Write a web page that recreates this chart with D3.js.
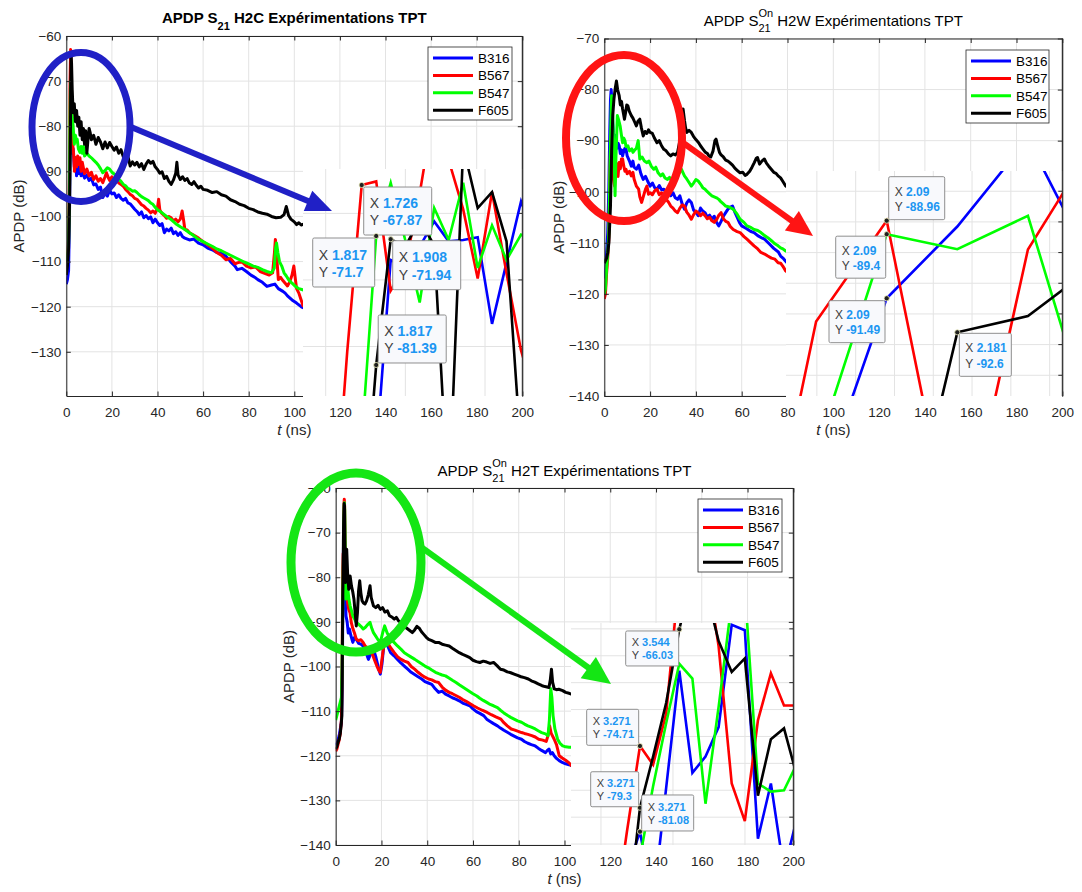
<!DOCTYPE html>
<html><head><meta charset="utf-8">
<script src="https://cdn.jsdelivr.net/npm/d3@7/dist/d3.min.js"></script>
<style>
html,body{margin:0;padding:0;background:#fff;}
svg text{font-family:"Liberation Sans",Arial,Helvetica,sans-serif;}
</style></head><body>
<svg id="chart" width="1082" height="892"></svg>
<script>
// ================= DATA =================
const seriesNames = ["B316","B567","B547","F605"];
const xTicks = [0,20,40,60,80,100,120,140,160,180,200];
const yTicksH2C = [-130,-120,-110,-100,-90,-80,-70,-60];
const yTicksH2W = [-140,-130,-120,-110,-100,-90,-80,-70];
const yTicksH2T = [-140,-130,-120,-110,-100,-90,-80,-70,-60];

// ---- H2C main curves [t (ns), APDP (dB)]
const h2c_B316 = [[0,-115],[0.5,-114],[1,-112],[1.4,-100],[1.6,-88],[1.8,-82],[2.0,-76],[2.2,-80],[2.5,-86],[3,-85],[3.5,-89],[4,-87],[4.5,-91],[5,-89],[5.5,-90.5],[6,-88.5],[6.5,-91],[7,-90],[8,-91.5],[9,-90.8],[10,-92],[11,-91.5],[12,-93],[13,-92.8],[14,-94],[15,-93.5],[16,-95.8],[17,-94.8],[18,-95.5],[19,-94.2],[20,-95],[21,-94.8],[22,-95.8],[23,-95.2],[24,-96],[25,-96.4],[26,-96],[27,-97],[28,-97.2],[29,-97.8],[30,-98.4],[31,-98.9],[32,-99.6],[33,-99],[34,-100.3],[35,-99.8],[36,-100.5],[37,-100.1],[38,-101.4],[39,-100.6],[40,-101.4],[41,-102],[42,-101.6],[43,-103.6],[44,-102.8],[45,-103.2],[46,-102.6],[47,-103.8],[48,-103.4],[49,-104.2],[50,-103.6],[51,-104.5],[52,-104.8],[54,-105.2],[56,-105],[58,-105.9],[60,-106.3],[62,-107],[64,-107.4],[66,-108],[68,-108.2],[70,-108.8],[72,-110],[74,-111],[75,-111.8],[77,-111.5],[79,-112.2],[81,-113],[83,-113.6],[84,-114],[86,-114.6],[88,-115.5],[90,-115.2],[91.5,-115],[93,-116],[95,-116.6],[96,-117],[97,-117.6],[99,-118.5],[101,-119.2],[103,-120],[104,-120.3]];
const h2c_B567 = [[0,-110],[0.5,-109],[1,-105],[1.4,-90],[1.6,-72],[1.73,-67.9],[1.9,-63],[2.1,-66],[2.4,-75],[2.8,-84],[3.2,-86],[3.6,-90],[4,-87],[4.5,-89],[5,-86.6],[5.5,-88.5],[6,-87],[6.5,-90],[7,-88],[8,-90.5],[9,-89.5],[10,-91],[11,-90.2],[12,-91.8],[13,-91],[14,-92.2],[15,-91.6],[16,-92.5],[17,-91.2],[17.6,-90.3],[18.5,-91.5],[19,-92],[20,-91.2],[21,-92],[22,-91.8],[23,-92.6],[24,-92.9],[25,-93.3],[26,-94],[27,-94.5],[28,-95.1],[29,-95.4],[30,-96],[31,-96.2],[32,-96.8],[33,-97.4],[34,-97.7],[35,-98.2],[36,-98.6],[37,-99.2],[38,-98.8],[39,-99.3],[40,-98],[40.5,-96.2],[41,-98.5],[41.7,-99.2],[43,-99.8],[44,-100.4],[45,-100],[46,-100.3],[47,-101],[48,-100.6],[49,-101.2],[50,-100.6],[50.8,-98.8],[51.5,-101],[52,-102.9],[53,-103],[54,-103.6],[55,-103.9],[56,-104.2],[58,-104.8],[60,-105.6],[62,-106.3],[64,-107],[66,-108],[68,-108.6],[70,-109.6],[72,-109.3],[74,-110.5],[75,-110.3],[77,-110],[79,-111],[81,-111.4],[83,-111.2],[85,-112.2],[87,-112.6],[89,-113],[90.5,-112.5],[91.3,-108],[91.7,-105.1],[92.3,-109],[93,-114],[94,-113.5],[95,-114.2],[96,-114.8],[97,-115.4],[98,-114.5],[99,-113],[99.8,-111],[100.5,-114],[101,-116],[102,-117],[103,-118.5],[104,-120]];
const h2c_B547 = [[0,-110],[0.5,-109],[1,-106],[1.4,-95],[1.6,-80],[1.82,-71.7],[2,-70],[2.2,-72],[2.6,-78],[3,-80],[3.5,-84],[4,-82],[4.5,-83.5],[4.8,-82.9],[5.3,-85],[6,-85.8],[6.5,-84.5],[7,-86],[7.5,-84.5],[8,-86.6],[9,-86],[10,-86.6],[11,-87],[12,-87.5],[13,-88],[14,-88.6],[15,-89.4],[16,-90.3],[17,-89.8],[18,-89.2],[19,-89.5],[20,-90.2],[21,-90.6],[22,-91],[23,-91.8],[24,-92.2],[25,-92.9],[26,-93.2],[27,-93.8],[28,-94],[29,-94.4],[30,-94.3],[31,-94.7],[32,-95.2],[33,-95.6],[34,-95.9],[35,-96.2],[36,-96.5],[37,-97],[38,-97.3],[39,-98],[40,-98.5],[42,-99.2],[44,-100],[46,-100.7],[48,-101.6],[50,-102.3],[52,-102.9],[54,-103.6],[56,-104.3],[58,-105.1],[60,-105.6],[62,-106.1],[64,-106.6],[66,-107.2],[68,-107.6],[70,-108.1],[72,-108.6],[74,-109.1],[76,-109.6],[78,-110.1],[80,-110.5],[82,-111],[84,-111.3],[86,-111.8],[88,-112.2],[90,-112.5],[91.2,-111.5],[91.8,-107],[92.2,-105.9],[92.8,-108],[93.5,-110],[94.5,-111],[95.5,-112.5],[96.5,-113.2],[97.5,-114],[99,-114.8],[100.5,-115.5],[102,-116],[104,-116.3]];
const h2c_F605 = [[0,-113],[0.5,-111],[1,-107],[1.5,-95],[1.73,-85],[1.82,-81.4],[1.91,-71.9],[2.1,-64],[2.3,-66],[2.6,-72],[3,-77],[3.5,-75],[4,-79],[4.5,-76.5],[5,-80],[5.5,-78],[6,-82],[6.5,-79],[7,-83],[7.5,-80.5],[8,-84],[8.5,-81],[9,-86],[9.5,-83],[10,-80.5],[10.5,-81.5],[11,-83],[12,-82],[13,-84],[14,-82.5],[15,-83.5],[16,-85],[17,-83.5],[18,-84.8],[19,-83.6],[20,-84.5],[21,-85.3],[22,-84.6],[23,-86],[24,-85.2],[25,-86.8],[26,-87.4],[27,-86.6],[28,-88.8],[29,-87.9],[30,-88.6],[31,-88],[32,-89],[33,-88.3],[34,-89.6],[35,-88.4],[36,-87.6],[37,-88.2],[38,-87.8],[39,-89],[40,-89.6],[41,-90.4],[42,-90.1],[43,-91.6],[44,-91.1],[45,-92.2],[46,-92.9],[47,-91.9],[48,-90.4],[48.5,-88],[49,-90.8],[50,-91.8],[51,-91.2],[52,-92],[53,-91.6],[54,-92.6],[55,-92.9],[56,-92.3],[57,-93.1],[58,-93.7],[59,-93.3],[60,-94],[62,-94.2],[64,-94.7],[66,-94.5],[68,-95.2],[70,-95.5],[72,-96.3],[74,-96.7],[76,-97.3],[78,-97.6],[80,-98.2],[82,-98.5],[84,-99],[86,-99.3],[88,-99.5],[90,-100],[92,-100.3],[94,-100.2],[95.5,-99.6],[96.5,-97.8],[97.5,-99.8],[98.5,-100.6],[100,-101.2],[101,-101.8],[102,-101.4],[103,-101.9],[104,-101.7]];

// ---- H2W main curves
const h2w_B316 = [[0,-117],[0.5,-116],[1,-112],[1.5,-108],[2,-99],[2.4,-88],[2.7,-82],[3,-80],[3.3,-82],[3.6,-86],[4,-88.4],[4.5,-90],[5,-89],[5.5,-91.5],[6,-90.5],[6.5,-91],[7,-92.5],[7.5,-91.8],[8,-93],[8.5,-92],[9,-91.5],[9.5,-91.7],[10,-93],[11,-94],[11.8,-95],[12.5,-94],[13,-95.2],[14,-95.6],[15,-94.8],[16,-96.5],[17,-97.6],[18,-97],[19,-98],[20,-98.9],[21,-98.3],[22,-99.2],[23,-99.5],[24,-98.8],[25,-99.6],[26,-99.5],[27,-100.2],[28,-100],[29,-100.8],[30,-100.2],[31,-101.2],[32,-101.5],[33,-100.8],[34,-102.4],[35,-103.4],[36,-102.2],[37,-101.6],[38,-102.1],[39,-103.6],[40,-104],[41,-104.7],[42,-103.2],[43,-103.8],[44,-104.1],[45,-105],[46,-104.6],[47,-105.4],[48,-104.8],[49,-106],[50,-106.7],[51,-105.8],[52,-104.8],[53,-104.1],[54,-103.4],[55,-103],[56,-102.8],[57,-104],[58,-105],[59,-106],[60,-106.7],[62,-107.2],[64,-107.8],[65.4,-108],[67,-108.6],[69,-109.1],[70,-109.3],[72,-110.2],[74,-111.1],[76,-111.8],[77,-112.6],[78,-113],[79,-113.5],[80,-114]];
const h2w_B567 = [[0,-121],[0.5,-120],[1,-116],[1.5,-113],[2,-109],[2.4,-97],[2.8,-90],[3,-89],[3.3,-92],[3.6,-97],[4,-97.6],[4.5,-98.9],[5,-96],[5.5,-94.5],[6,-97],[6.5,-94.3],[7,-95.5],[7.5,-93.6],[8,-93.6],[8.5,-95],[9,-96],[9.5,-95.6],[10,-96.5],[11,-96],[11.8,-96.9],[12.5,-96.2],[13,-97.5],[14,-98.9],[15,-99.5],[15.5,-101],[16.3,-102.1],[17,-101],[18,-99.5],[18.6,-98.9],[19.3,-100.5],[20,-100.2],[21,-100.6],[22,-99.8],[23,-99.5],[24,-100.6],[25,-100.2],[26,-100.8],[27,-101.5],[28,-102],[29,-102.8],[30,-103.2],[31,-103.8],[32,-104.1],[33,-103.2],[34,-102.6],[35,-102.8],[36,-104],[37,-104.6],[38,-105.4],[39,-104.5],[40,-103.8],[41,-104.1],[42,-104.7],[43,-104.2],[44,-104.7],[45,-105.3],[46,-105],[47,-105.7],[48,-106],[49,-105.5],[50,-104.6],[51,-104.1],[52,-105.3],[53,-105.8],[54,-106],[55,-106.8],[56.3,-107.4],[58,-107.8],[59.3,-108],[61,-108.8],[62.3,-109.3],[64,-110],[65.4,-110.6],[67,-111.2],[68.4,-111.9],[70,-112.2],[71.4,-112.6],[73,-113],[74.5,-113.2],[75.9,-113.9],[77,-114],[78,-114.6],[79.2,-115.5],[80,-115.8]];
const h2w_B547 = [[0,-120],[0.5,-119],[1,-115],[1.5,-112],[2,-108],[2.5,-95],[3,-84],[3.2,-81.2],[3.5,-83],[3.8,-87],[4.2,-91.7],[4.7,-100.8],[5.1,-93],[5.7,-85.1],[6.3,-86],[6.9,-87.1],[7.5,-89],[8,-90.4],[8.5,-89.5],[9,-90],[9.5,-91.2],[10.3,-91],[11,-92],[12,-91.6],[12.5,-92.3],[13,-92],[14,-91.5],[14.8,-90],[15.5,-93.6],[16.5,-93.2],[17.5,-94],[18.6,-94.3],[19.5,-94],[20.5,-95],[21.6,-95.6],[22.5,-95.2],[23.5,-96.3],[24.6,-96.9],[25.5,-96.5],[26.5,-97.3],[27.6,-97.6],[28.5,-97.2],[29.5,-98],[30.6,-98.2],[31.5,-97.5],[32.5,-96.5],[33.7,-95.6],[34.3,-96.2],[35,-96.9],[36,-97.5],[37,-98.2],[38,-98.9],[39,-98.3],[40,-97.6],[41,-97.9],[42,-98.5],[43,-99.2],[44,-99.5],[45,-100],[46,-100.4],[47,-100.8],[48,-101],[49,-101.2],[50,-101.5],[51,-102],[52,-102.4],[53,-102.8],[54.5,-103],[56.3,-103.4],[58,-104.4],[59.3,-105.4],[61,-106],[62.3,-106.7],[64,-107],[65.4,-107.4],[67,-107.6],[68.4,-108],[70,-108.6],[71.4,-109],[73,-109.6],[74.5,-110.2],[75.9,-110.6],[77,-111],[78,-111.2],[79.2,-111.6],[80,-111.8]];
const h2w_F605 = [[0,-114],[0.5,-113.5],[1,-113],[1.5,-112],[2,-110],[2.4,-106],[2.7,-102.8],[3.2,-92],[3.7,-85],[4.2,-81.9],[4.7,-80],[5.3,-78.3],[5.8,-80],[6.5,-81.2],[7,-83],[7.5,-82.3],[8,-83.8],[8.4,-84.8],[8.8,-85.8],[9.3,-84.5],[9.8,-83],[10.3,-83.2],[10.9,-84.2],[11.8,-85.1],[12.5,-85.6],[13.3,-86.4],[14,-87.1],[14.7,-86.2],[15.5,-85.8],[16.2,-87.5],[17,-89.1],[17.8,-88.2],[18.6,-88.6],[19.3,-87.9],[20,-88.4],[21,-88.6],[22,-89.6],[23,-90.4],[24,-90],[25,-91],[26,-91.7],[27,-92],[28,-92.6],[29,-93],[30,-92.6],[31,-92.8],[32,-92.3],[33,-90],[33.8,-86],[34.4,-83.8],[35,-86],[35.5,-87.5],[36,-88.4],[37,-88],[38,-88.4],[39,-89.2],[40,-89.8],[41.2,-90.4],[42,-91],[43,-91.6],[44,-92.2],[45,-92.5],[45.7,-93],[46.5,-93.2],[47.5,-92],[48.3,-90],[48.8,-89.7],[49.5,-91],[50.3,-92.3],[51,-92.8],[52,-93.2],[53,-93.8],[54,-94],[54.8,-94.3],[56,-94.8],[57,-95.4],[58,-95.8],[59.3,-96.3],[60.5,-96.2],[61.5,-96.8],[62.3,-96.6],[63.5,-96],[64.5,-95.2],[65.5,-94.3],[66.3,-93.5],[66.9,-93.3],[67.8,-94.6],[68.8,-94],[69.9,-93.6],[70.8,-94.4],[71.8,-95],[72.9,-95.6],[74,-96.2],[75,-96.4],[75.9,-96.9],[77,-97.3],[78,-98],[79.2,-98.9],[80,-98.6]];

// ---- H2T main curves
const h2t_B316 = [[0,-117],[0.5,-117.5],[1,-116.5],[1.5,-115.5],[2,-114],[2.5,-112.5],[2.8,-105],[3.0,-95],[3.1,-86],[3.27,-81.1],[3.36,-75],[3.46,-70],[3.6,-68],[3.8,-72],[4.1,-82],[4.5,-88.7],[5,-90],[5.5,-92.5],[6,-91.6],[6.6,-93],[7.5,-94.6],[8.2,-93.5],[9,-93.9],[10,-94.8],[11,-95],[12,-95.4],[13,-96.5],[14.3,-98.4],[15,-97.5],[16.5,-96.1],[17.5,-97.8],[18.8,-100.6],[19.5,-101.7],[20.2,-99.5],[21,-95.4],[21.8,-94.6],[22.8,-95.5],[24,-96.9],[25.5,-97.6],[27,-98.4],[28.5,-99.2],[30,-99.9],[31.5,-100.6],[33,-101.3],[34.5,-101.8],[36,-102.3],[37.6,-102.8],[39,-103.4],[40.5,-103.7],[42,-104],[43.5,-105],[45,-105.8],[46.5,-105.5],[48,-106.2],[49.6,-106.6],[51,-107],[52.5,-107.3],[54,-107.7],[55.5,-108.2],[57,-108.5],[58.6,-108.8],[60,-109.5],[61.5,-110.1],[63,-110.5],[64.7,-111],[66,-111.8],[67.5,-112.3],[69,-112.8],[70.7,-113.3],[72,-113.8],[73.5,-114.3],[75.2,-114.8],[76.5,-115.2],[78,-115.6],[79.5,-116],[81.2,-116.3],[82.5,-116.8],[84,-117.2],[85.5,-117.5],[87.2,-117.8],[88.5,-118.3],[90,-118.8],[91.7,-119.3],[92.5,-118.8],[93.2,-118.5],[94,-119.6],[94.7,-119.3],[95.5,-120],[96.5,-120.6],[97.7,-121.1],[99,-121.5],[100.5,-121.8],[102,-122],[103,-122.2],[104,-122.4]];
const h2t_B567 = [[0,-119],[0.5,-118.5],[1,-117.5],[1.5,-116.5],[2,-115],[2.5,-112],[2.8,-100],[3.0,-85],[3.1,-78],[3.27,-74.7],[3.36,-76.1],[3.46,-72.3],[3.6,-64],[3.75,-62.5],[3.9,-64],[4.1,-72],[4.3,-81],[4.8,-84],[5.3,-86],[5.7,-87.2],[6.3,-88],[6.8,-90.1],[7.5,-91.5],[8.2,-92.5],[9,-93.9],[10,-94.2],[11,-94],[12,-94.6],[13,-95.5],[14,-95.8],[15,-96.1],[16,-97.2],[17,-98.6],[18,-99.9],[18.8,-100.8],[19.5,-101.3],[20.2,-98.5],[21,-95.4],[22,-94.8],[22.6,-94.6],[24,-95.8],[25.6,-96.9],[27,-97.8],[28.6,-98.4],[30,-98.8],[31.6,-99.1],[33,-100],[34.5,-100.6],[36,-101.3],[37.5,-101.9],[39,-102.4],[40.6,-102.8],[42,-103],[43.5,-103.4],[45,-103.6],[46.5,-104.6],[48,-105.3],[49.6,-105.8],[51,-106.1],[52.5,-106.5],[54,-106.9],[55.5,-107.4],[57,-107.8],[58.6,-108.3],[60.2,-108.8],[62,-109.3],[64,-109.8],[66.2,-110.3],[68,-110.8],[70,-111.3],[72.2,-111.8],[73.5,-112.6],[75,-113.3],[76.7,-114],[78,-114.2],[79.5,-114.5],[81.2,-114.8],[82.5,-115],[84,-115.2],[85.7,-115.5],[87.2,-115.8],[88.7,-116.3],[90.5,-116.5],[92,-116.8],[92.8,-115.5],[93.5,-113.3],[94.2,-115],[95.5,-116.3],[96.5,-117.5],[97.7,-120],[99,-120.5],[100.5,-121],[102,-121.6],[103,-122.2],[104,-122.6]];
const h2t_B547 = [[0,-112],[0.5,-111],[1,-110],[1.5,-109],[2,-108],[2.5,-107],[2.8,-100],[3.0,-90],[3.1,-85],[3.2,-82],[3.36,-76],[3.46,-73],[3.54,-68.4],[3.7,-64],[3.8,-63.3],[3.95,-65],[4.1,-72],[4.3,-80],[4.5,-84.9],[4.9,-83],[5.3,-82.7],[5.8,-85],[6.3,-86.4],[6.9,-87.5],[7.5,-88.7],[8.2,-89.3],[9,-90.1],[10,-90.5],[11,-91],[12,-91.6],[13,-91.2],[14,-90.6],[15,-90.1],[15.8,-91.5],[16.5,-92.4],[17.5,-93.2],[18.5,-94],[19.5,-94.6],[20.5,-92.5],[21.4,-90.9],[22.5,-92.5],[24,-93.9],[25.5,-94.6],[27,-95.4],[28.5,-96.1],[30,-96.9],[31.5,-97.4],[33,-97.9],[34.6,-98.4],[36,-98.9],[37.5,-99.4],[39,-99.9],[40.5,-100.3],[42,-100.8],[43.6,-101.3],[45,-101.6],[46.5,-101.9],[48,-102.1],[49.5,-102.6],[51,-103.1],[52.6,-103.6],[54,-104.1],[55.5,-104.6],[57,-105.1],[58.5,-105.6],[60,-106.1],[61.7,-106.6],[63,-107.1],[64.5,-107.6],[66.2,-108.1],[67.5,-108.5],[69,-108.8],[70.7,-109.2],[72,-109.8],[73.5,-110.4],[75.2,-111],[76.5,-111.4],[78,-111.8],[79.5,-112.2],[81.2,-112.5],[82.5,-112.9],[84,-113.3],[85.5,-113.6],[87.2,-114],[88.5,-114.4],[90,-114.8],[91.7,-115.1],[92.8,-115.5],[93.4,-112],[94,-105],[94.5,-107],[95,-111],[95.8,-114],[97,-116.3],[98,-117.2],[99.2,-117.8],[100.5,-118],[102,-118.1],[103,-118.1],[104,-118.2]];
const h2t_F605 = [[0,-118.5],[0.5,-118],[1,-117],[1.5,-116.3],[2,-115],[2.4,-113],[2.7,-111],[2.9,-100],[3.0,-90],[3.1,-84],[3.27,-79.3],[3.36,-72],[3.46,-68],[3.54,-66],[3.7,-63.5],[3.85,-64],[4,-72],[4.2,-81.2],[4.5,-76],[4.8,-73.7],[5.2,-79],[5.7,-82.7],[6.3,-79.7],[6.9,-82],[7.5,-83.4],[8,-85],[8.5,-88],[9,-90.9],[9.5,-88],[10,-83],[10.5,-80.8],[11,-83.5],[11.5,-85.2],[12,-85.7],[12.8,-86],[13.5,-85.3],[14.2,-84],[15,-81.9],[15.5,-84.5],[16.5,-86.4],[17.5,-86.8],[18.5,-86.3],[19.5,-87.2],[20.5,-86.8],[21.5,-87.8],[22.6,-87.5],[23.5,-88.6],[24.5,-88.9],[25.6,-89.4],[26.5,-89],[27.5,-89.8],[28.6,-90.1],[29.5,-90.8],[30.5,-91.2],[31.5,-91.6],[32.5,-92],[33.5,-92.4],[34.5,-91.8],[35.5,-91],[36.5,-91.4],[37.5,-92.2],[38.5,-92.8],[39.5,-93.4],[40.6,-93.9],[42,-94.2],[43.5,-94.6],[45,-94.6],[46.5,-95],[48,-95.2],[49.6,-95.4],[51,-95.9],[52.5,-96.4],[54,-96.9],[55.5,-97.3],[57,-97.6],[58.6,-98],[60,-98.6],[61.5,-98.9],[63,-99.1],[64.5,-98.8],[66,-99],[67.5,-99.3],[69,-99.1],[70.5,-99.8],[72,-100.6],[73.5,-100.8],[75,-101.2],[76.5,-101.4],[78,-101.7],[79.5,-102],[81,-102.3],[82.5,-102.5],[84.2,-102.8],[85.5,-103.2],[87,-103.5],[88.5,-103.9],[90.2,-104.3],[91.5,-104.5],[93.2,-104.7],[93.8,-103],[94.3,-100.6],[94.8,-103.5],[95.5,-105],[96.5,-105.2],[97.5,-105.1],[99.2,-105.4],[100.5,-105.8],[102,-106],[103,-106.2],[104,-106.3]];

// ---- zoom insets: sample times and values (B316, B567, B547, F605)
const zH2C_t    = [1.362,1.453,1.544,1.635,1.726,1.817,1.908,1.999,2.090,2.181,2.272,2.363,2.454,2.544,2.635,2.726,2.817];
const zH2C_B316 = [-114,-112,-108,-100,-95,-88,-73.5,-74,-72.5,-70.6,-72.1,-72,-71.8,-78.3,-73.7,-69.1,-72];
const zH2C_B567 = [-110,-104,-95,-80.4,-67.87,-67.6,-75.8,-74,-68.5,-62,-66,-69.7,-74.9,-68.4,-74.5,-80.3,-84];
const zH2C_B547 = [-110,-107,-102,-95,-87,-71.7,-67.7,-72,-76.7,-69.6,-72,-67.7,-74.1,-70.9,-73.5,-71.6,-72];
const zH2C_F605 = [-113,-111,-107,-100,-95,-81.39,-71.94,-72.5,-70.5,-72.4,-92,-65,-69.6,-68.4,-72.1,-88,-90];

const zH2W_t    = [1.908,1.999,2.090,2.181,2.272,2.363];
const zH2W_B316 = [-104,-98.1,-91.49,-89.15,-86.3,-90.8];
const zH2W_B567 = [-103.2,-92.25,-88.96,-100.3,-89.9,-86.2];
const zH2W_B547 = [-100,-96.5,-89.4,-89.89,-88.8,-96.4];
const zH2W_F605 = [-110,-105,-102.3,-92.6,-92.07,-90.33];

const zH2T_t    = [2.998,3.089,3.180,3.271,3.362,3.453,3.544,3.635,3.726,3.817,3.908,3.999,4.090,4.180,4.271,4.362];
const zH2T_B316 = [-95,-90,-84,-81.08,-86.4,-77.8,-69.1,-76.7,-75.5,-73.3,-65.7,-66.1,-81.6,-77.5,-84,-80];
const zH2T_B567 = [-92,-88,-81.1,-74.71,-76.1,-72.3,-62,-60,-61,-67.3,-77.5,-80.3,-72.8,-69.3,-71.7,-71.7];
const zH2T_B547 = [-95,-92,-88,-83,-77.7,-73,-68.6,-69.7,-79,-71.8,-64,-63,-77.5,-78.1,-78,-76];
const zH2T_F605 = [-98,-94,-88,-79.3,-75.5,-71.5,-66.03,-62,-63,-66.9,-69.2,-68.2,-78.4,-74.2,-73.4,-77];

// inset grid tick values
const zH2C_xg = [1.5,2,2.5];
const zH2C_yg = [-70,-75,-80];
const zH2W_xg = [2,2.05,2.1,2.15,2.2,2.25,2.3];
const zH2W_yg = [-88,-89,-90,-91,-92,-93,-94];
const zH2T_xg = [3,3.5,4];
const zH2T_yg = [-66,-68,-70,-72,-74,-76,-78,-80,-82];

// data tips [x, y]
const tipsH2C = [[1.726,-67.87],[1.817,-71.7],[1.908,-71.94],[1.817,-81.39]];
const tipsH2W = [[2.09,-88.96],[2.09,-89.4],[2.09,-91.49],[2.181,-92.6]];
const tipsH2T = [[3.544,-66.03],[3.271,-74.71],[3.271,-79.3],[3.271,-81.08]];

// ================= STYLE / LAYOUT =================
const colors = ["#0000ff","#ff0000","#00ff00","#000000"];
const svg = d3.select("#chart");

const panels = [
 { id:"p1", title:{main:"APDP S",sub:"21",sup:null,rest:" H2C Expérimentations TPT",bold:true,y:23},
   x0:66.3,x1:522.3,y0:36,y1:396,ydom:[-139.8,-60],yTicks:yTicksH2C,
   series:[h2c_B316,h2c_B567,h2c_B547,h2c_F605], ylabX:24,
   inset:{x0:303,x1:522.3,y0:169,y1:396,xdom:[1.3575,2.734],ydom:[-83.72,-66.666],
          t:zH2C_t,vals:[zH2C_B316,zH2C_B567,zH2C_B547,zH2C_F605],xg:zH2C_xg,yg:zH2C_yg},
   tips:tipsH2C, tipLayout:[[2,2,68,48],[-63.5,2,62,49],[2,1.5,68,49],[2,-50,68,48]], tipFont:14,
   legend:{x:428,y:47,w:84,h:73},
   ellipse:{cx:81,cy:127,rx:49,ry:74.5,sw:7,color:"#2020c6"},
   arrow:{x1:131,y1:127,x2:332,y2:211,sw:6,hl:26,hw:11} },
 { id:"p2", title:{main:"APDP S",sub:"21",sup:"On",rest:" H2W Expérimentations TPT",bold:false,y:26},
   x0:604.3,x1:1062.3,y0:38.5,y1:396,ydom:[-140,-70],yTicks:yTicksH2W,
   series:[h2w_B316,h2w_B567,h2w_B547,h2w_F605], ylabX:563.5,
   inset:{x0:786,x1:1062.3,y0:171,y1:396,xdom:[1.9602,2.3163],ydom:[-94.676,-87.34],
          t:zH2W_t,vals:[zH2W_B316,zH2W_B567,zH2W_B547,zH2W_F605],xg:zH2W_xg,yg:zH2W_yg},
   tips:tipsH2W, tipLayout:[[2,-44,56,43],[-51,2,50,42],[-57.7,2.4,56,42],[2,1,52,43]], tipFont:12,
   legend:{x:966,y:50,w:83,h:73},
   ellipse:{cx:624,cy:138,rx:58,ry:83,sw:8,color:"#ff1414"},
   arrow:{x1:682,y1:142,x2:813,y2:236,sw:6,hl:26,hw:12} },
 { id:"p3", title:{main:"APDP S",sub:"21",sup:"On",rest:" H2T Expérimentations TPT",bold:false,y:476},
   x0:335.7,x1:793.3,y0:488,y1:845,ydom:[-140,-60],yTicks:yTicksH2T,
   series:[h2t_B316,h2t_B567,h2t_B547,h2t_F605], ylabX:293.5,
   inset:{x0:571,x1:793.3,y0:623,y1:845,xdom:[2.792,4.3356],ydom:[-82.07,-65.565],
          t:zH2T_t,vals:[zH2T_B316,zH2T_B567,zH2T_B547,zH2T_F605],xg:zH2T_xg,yg:zH2T_yg},
   tips:tipsH2T, tipLayout:[[-53.6,1.7,53,35],[-53.3,-36.7,52,36],[-49.3,-36,48,35],[1.7,-36.7,52,36]], tipFont:11,
   legend:{x:698,y:499,w:84,h:73},
   ellipse:{cx:356,cy:562.5,rx:65,ry:89.5,sw:9,color:"#14e614"},
   arrow:{x1:421,y1:547,x2:611,y2:684,sw:6,hl:28,hw:13} }
];

const axisColor = "#262626";
const gridColor = "#e3e3e3";

function drawPanel(P){
  const g = svg.append("g");
  const x = d3.scaleLinear().domain([0,200]).range([P.x0,P.x1]);
  const y = d3.scaleLinear().domain(P.ydom).range([P.y1,P.y0]);

  // grid
  g.append("g").selectAll("line").data(xTicks).join("line")
    .attr("x1",d=>x(d)).attr("x2",d=>x(d)).attr("y1",P.y0).attr("y2",P.y1)
    .attr("stroke",gridColor).attr("stroke-width",1);
  g.append("g").selectAll("line").data(P.yTicks).join("line")
    .attr("x1",P.x0).attr("x2",P.x1).attr("y1",d=>y(d)).attr("y2",d=>y(d))
    .attr("stroke",gridColor).attr("stroke-width",1);

  // clip + main curves
  svg.append("clipPath").attr("id","clip-"+P.id).append("rect")
    .attr("x",P.x0).attr("y",P.y0).attr("width",P.x1-P.x0).attr("height",P.y1-P.y0);
  const line = d3.line().x(d=>x(d[0])).y(d=>y(d[1]));
  const cg = g.append("g").attr("clip-path","url(#clip-"+P.id+")");
  P.series.forEach((s,i)=>{
    cg.append("path").datum(s).attr("d",line).attr("fill","none")
      .attr("stroke",colors[i]).attr("stroke-width",3).attr("stroke-linejoin","round");
  });

  // axes
  const ax = g.append("g").attr("color",axisColor);
  ax.append("g").attr("transform",`translate(0,${P.y1})`)
    .call(d3.axisBottom(x).tickValues(xTicks).tickSizeInner(-4.5).tickSizeOuter(0).tickPadding(11).tickFormat(d3.format("d")));
  ax.append("g").attr("transform",`translate(0,${P.y0})`)
    .call(d3.axisTop(x).tickValues(xTicks).tickSizeInner(-4.5).tickSizeOuter(0).tickFormat(""));
  ax.append("g").attr("transform",`translate(${P.x0},0)`)
    .call(d3.axisLeft(y).tickValues(P.yTicks).tickSizeInner(-4.5).tickSizeOuter(0).tickPadding(5).tickFormat(d3.format("d")));
  ax.append("g").attr("transform",`translate(${P.x1},0)`)
    .call(d3.axisRight(y).tickValues(P.yTicks).tickSizeInner(-4.5).tickSizeOuter(0).tickFormat(""));
  ax.selectAll("text").attr("font-size",13.5).attr("fill",axisColor)
    .attr("font-family",'"Liberation Sans",Arial,sans-serif');
  ax.selectAll(".domain").attr("stroke",axisColor);

  // ---- inset
  const I = P.inset;
  const xi = d3.scaleLinear().domain(I.xdom).range([I.x0,I.x1]);
  const yi = d3.scaleLinear().domain(I.ydom).range([I.y1,I.y0]);
  g.append("rect").attr("x",I.x0).attr("y",I.y0).attr("width",I.x1-I.x0).attr("height",I.y1-I.y0+1)
    .attr("fill","#fff");
  g.append("g").selectAll("line").data(I.xg).join("line")
    .attr("x1",d=>xi(d)).attr("x2",d=>xi(d)).attr("y1",I.y0).attr("y2",I.y1)
    .attr("stroke",gridColor);
  g.append("g").selectAll("line").data(I.yg).join("line")
    .attr("x1",I.x0).attr("x2",I.x1).attr("y1",d=>yi(d)).attr("y2",d=>yi(d))
    .attr("stroke",gridColor);
  g.append("g").selectAll("line").data(I.yg).join("line")
    .attr("x1",I.x1-4).attr("x2",I.x1).attr("y1",d=>yi(d)).attr("y2",d=>yi(d))
    .attr("stroke",axisColor);
  svg.append("clipPath").attr("id","clipI-"+P.id).append("rect")
    .attr("x",I.x0).attr("y",I.y0).attr("width",I.x1-I.x0).attr("height",I.y1-I.y0);
  const lineI = d3.line().x(d=>xi(d[0])).y(d=>yi(d[1]));
  const ci = g.append("g").attr("clip-path","url(#clipI-"+P.id+")");
  I.vals.forEach((v,i)=>{
    const pts = I.t.map((t,j)=>[t,v[j]]);
    ci.append("path").datum(pts).attr("d",lineI).attr("fill","none")
      .attr("stroke",colors[i]).attr("stroke-width",2.6).attr("stroke-linejoin","miter");
  });
  g.append("line").attr("x1",P.x1).attr("x2",P.x1).attr("y1",P.y0).attr("y2",P.y1)
    .attr("stroke",axisColor);

  // data tips
  const fmt = v => String(v);
  P.tips.forEach((d,i)=>{
    const px = xi(d[0]), py = yi(d[1]);
    const L = P.tipLayout[i];
    const bx = px+L[0], by = py+L[1];
    g.append("rect").attr("x",bx).attr("y",by).attr("width",L[2]).attr("height",L[3])
      .attr("fill","#f8f9fc").attr("stroke","#8f8f8f").attr("stroke-width",1).attr("rx",1.5);
    const t1 = g.append("text").attr("x",bx+6).attr("y",by+L[3]*0.44).attr("font-size",P.tipFont);
    t1.append("tspan").attr("fill","#404040").text("X ");
    t1.append("tspan").attr("fill","#1c96f2").attr("font-weight","bold").text(fmt(d[0]));
    const t2 = g.append("text").attr("x",bx+6).attr("y",by+L[3]*0.8).attr("font-size",P.tipFont);
    t2.append("tspan").attr("fill","#404040").text("Y ");
    t2.append("tspan").attr("fill","#1c96f2").attr("font-weight","bold").text(fmt(d[1]));
    g.append("circle").attr("cx",px).attr("cy",py).attr("r",2.6)
      .attr("fill","#202020").attr("stroke","#f0f0c0").attr("stroke-width",0.8);
  });

  // legend
  const Lg = P.legend;
  g.append("rect").attr("x",Lg.x).attr("y",Lg.y).attr("width",Lg.w).attr("height",Lg.h)
    .attr("fill","#fff").attr("stroke",axisColor).attr("stroke-width",0.8);
  seriesNames.forEach((n,i)=>{
    const yy = Lg.y + 11 + i*17.4;
    g.append("line").attr("x1",Lg.x+5).attr("x2",Lg.x+45).attr("y1",yy).attr("y2",yy)
      .attr("stroke",colors[i]).attr("stroke-width",3);
    g.append("text").attr("x",Lg.x+50).attr("y",yy+4.7).attr("font-size",13.5).attr("fill","#000").text(n);
  });

  // title
  const T = P.title;
  const cx = (P.x0+P.x1)/2;
  const tt = svg.append("text").attr("x",cx).attr("y",T.y).attr("text-anchor","middle")
    .attr("font-size",15).attr("font-weight",T.bold?"bold":"normal").attr("fill","#000");
  tt.append("tspan").text(T.main);
  if (T.sup){
    tt.append("tspan").attr("font-size",11).attr("dy",-9.3).text(T.sup);
    tt.append("tspan").attr("font-size",11).attr("dx",-14.7).attr("dy",15.6).text(T.sub);
    tt.append("tspan").attr("dx",2.4).attr("dy",-6.3).text(T.rest);
  } else {
    tt.append("tspan").attr("font-size",11).attr("dy",6.6).text(T.sub);
    tt.append("tspan").attr("dy",-6.6).text(T.rest);
  }

  // axis labels
  svg.append("text").attr("transform",`translate(${P.ylabX},${(P.y0+P.y1)/2}) rotate(-90)`)
    .attr("text-anchor","middle").attr("font-size",15).attr("fill",axisColor).text("APDP (dB)");
  const xl = svg.append("text").attr("x",cx).attr("y",P.y1+38.5).attr("text-anchor","middle")
    .attr("font-size",15).attr("fill",axisColor);
  xl.append("tspan").attr("font-style","italic").text("t");
  xl.append("tspan").text(" (ns)");
}

function drawAnnot(P){
  const E = P.ellipse, A = P.arrow;
  svg.append("ellipse").attr("cx",E.cx).attr("cy",E.cy).attr("rx",E.rx).attr("ry",E.ry)
    .attr("fill","none").attr("stroke",E.color).attr("stroke-width",E.sw);
  const dx = A.x2-A.x1, dy = A.y2-A.y1, len = Math.hypot(dx,dy);
  const ux = dx/len, uy = dy/len, nx = -uy, ny = ux;
  const bx = A.x2-ux*A.hl, by = A.y2-uy*A.hl;
  svg.append("line").attr("x1",A.x1).attr("y1",A.y1).attr("x2",bx+ux*2).attr("y2",by+uy*2)
    .attr("stroke",E.color).attr("stroke-width",A.sw);
  svg.append("polygon")
    .attr("points",[[A.x2,A.y2],[bx+nx*A.hw,by+ny*A.hw],[bx-nx*A.hw,by-ny*A.hw]].map(p=>p.join(",")).join(" "))
    .attr("fill",E.color);
}

panels.forEach(drawPanel);
panels.forEach(drawAnnot);
</script></body></html>
